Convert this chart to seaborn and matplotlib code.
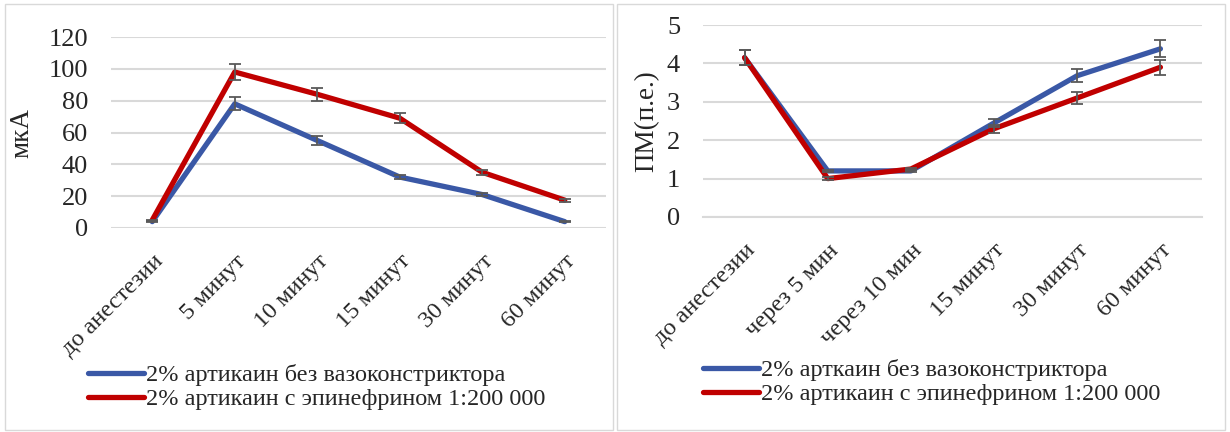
import matplotlib
matplotlib.use("Agg")
import matplotlib.pyplot as plt
import seaborn as sns
import pandas as pd
from matplotlib.patches import Rectangle

# данные
left_labels = ["до анестезии", "5 минут", "10 минут", "15 минут", "30 минут", "60 минут"]
left_blue = [4, 78, 55, 32, 21, 4]
left_blue_err = [0.5, 4, 3, 1.5, 1, 0.5]
left_red = [5, 98, 84, 69, 35, 17.5]
left_red_err = [0.3, 5, 4, 3, 1.5, 1]

right_labels = ["до анестезии", "через 5 мин", "через 10 мин", "15 минут", "30 минут", "60 минут"]
right_blue = [4.15, 1.2, 1.2, 2.45, 3.68, 4.38]
right_blue_err = [0.2, 0.03, 0.03, 0.1, 0.17, 0.22]
right_red = [4.15, 1.0, 1.25, 2.3, 3.1, 3.9]
right_red_err = [0.2, 0.03, 0.03, 0.1, 0.15, 0.2]

left_names = ["2% артикаин без вазоконстриктора", "2% артикаин с эпинефрином 1:200 000"]
right_names = ["2% арткаин без вазоконстриктора", "2% артикаин с эпинефрином 1:200 000"]

BLUE = "#3A58A6"
RED = "#C00000"
GRID = "#D9D9D9"
ERR = "#595959"

sns.set_style("white")
plt.rcParams["font.family"] = ["Liberation Serif", "DejaVu Serif"]
plt.rcParams["font.size"] = 17.5

W, H = 1230, 432
fig = plt.figure(figsize=(12.3, 4.32), dpi=100)

# рамки панелей
for x0 in [5, 617]:
    fig.patches.append(Rectangle((x0 / W, 2 / H), 608 / W, 426 / H,
                                 transform=fig.transFigure, fill=False,
                                 edgecolor=GRID, linewidth=1))


def draw(ax, labels, blue, blue_err, red, red_err, names, ylim, step, leg_xy):
    df = pd.DataFrame({
        "t": labels * 2,
        "v": blue + red,
        "s": [names[0]] * len(labels) + [names[1]] * len(labels),
    })
    sns.lineplot(data=df, x="t", y="v", hue="s", palette=[BLUE, RED],
                 linewidth=3.8, ax=ax, sort=False, legend=True)
    pos = range(len(labels))
    ax.errorbar(pos, blue, yerr=blue_err, fmt="none", ecolor=ERR,
                elinewidth=1.3, capsize=4.5, capthick=1.3, zorder=5)
    ax.errorbar(pos, red, yerr=red_err, fmt="none", ecolor=ERR,
                elinewidth=1.3, capsize=4.5, capthick=1.3, zorder=5)
    ax.set_xlim(-0.5, len(labels) - 0.5)
    ax.set_ylim(*ylim)
    ax.set_yticks(range(ylim[0], ylim[1] + 1, step))
    ax.grid(axis="y", color=GRID, linewidth=1.5)
    ax.set_axisbelow(True)
    for s in ax.spines.values():
        s.set_visible(False)
    ax.set_xlabel("")
    ax.tick_params(axis="y", length=0, pad=16.5, labelsize=19)
    ax.set_xticks(list(pos))
    ax.set_xticklabels(labels, rotation=45, ha="right", rotation_mode="anchor")
    ax.tick_params(axis="x", length=0, pad=16.5, labelsize=17.5)
    ax.get_legend().remove()
    handles, lbls = ax.get_legend_handles_labels()
    leg = fig.legend(handles, lbls, loc="upper left",
                     bbox_to_anchor=(leg_xy[0] / W, 1 - leg_xy[1] / H),
                     bbox_transform=fig.transFigure,
                     frameon=False, handlelength=2.3, handletextpad=0.1,
                     labelspacing=0.1, borderaxespad=0, borderpad=0,
                     fontsize=17.5)
    for h in leg.get_lines():
        h.set_linewidth(3.8)
        h.set_solid_capstyle("round")


ax1 = fig.add_axes([111 / W, 1 - 228 / H, 495 / W, 191 / H])
draw(ax1, left_labels, left_blue, left_blue_err, left_red, left_red_err,
     left_names, (0, 120), 20, (88, 364))
ax1.set_ylabel("мкА", fontsize=19.5, labelpad=10)

ax2 = fig.add_axes([703 / W, 1 - 217 / H, 499 / W, 192 / H])
draw(ax2, right_labels, right_blue, right_blue_err, right_red, right_red_err,
     right_names, (0, 5), 1, (703, 359))
ax2.set_ylabel("ПМ(п.е.)", fontsize=19.5, labelpad=5)
ax2.spines["bottom"].set_visible(True)
ax2.spines["bottom"].set_color(GRID)
ax2.spines["bottom"].set_linewidth(1.5)
ax2.set_xticks([i - 0.5 for i in range(len(right_labels) + 1)], minor=True)
ax2.tick_params(axis="x", which="minor", length=6, width=1.5, color=GRID)

for ax in [ax1, ax2]:
    for ln in ax.get_lines():
        ln.set_clip_on(False)
        ln.set_solid_capstyle("round")

fig.savefig("out.png", dpi=100)
